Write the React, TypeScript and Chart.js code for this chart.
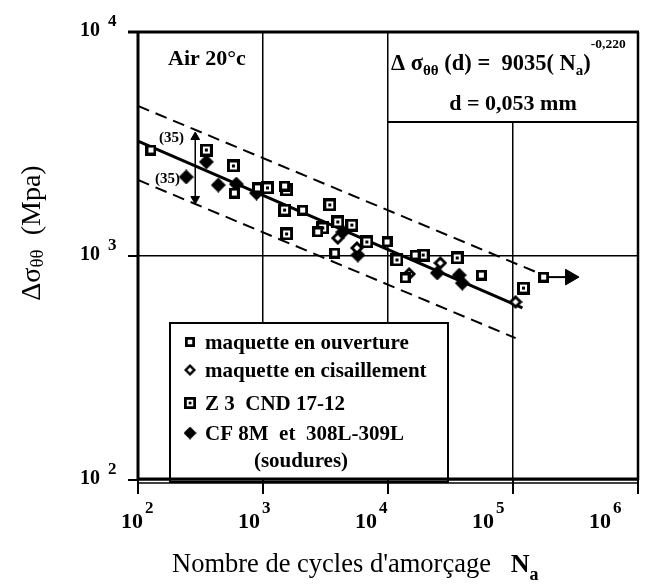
import React, { useEffect, useRef } from 'react';
import { Chart, registerables } from 'chart.js';

Chart.register(...registerables);

const W = 658;
const H = 587;

// axis decades and tick exponent labels
const xDecades = [1e2, 1e3, 1e4, 1e5, 1e6];
const yDecades = [1e2, 1e3, 1e4];
const xTickExponents = ['2', '3', '4', '5', '6'];
const yTickExponents = ['2', '3', '4'];

// texts
const xTitleMain = "Nombre de cycles d'amorçage";
const legendLabels = ['maquette en ouverture', 'maquette en cisaillement', 'Z 3  CND 17-12', 'CF 8M  et  308L-309L'];
const legendNote = '(soudures)';
const envLabel = 'Air 20°c';
const scatterLabel = '(35)';
const formulaCoef = '9035(';
const formulaExp = '-0,220';
const formulaLine2 = 'd = 0,053 mm';

// series: maquette en ouverture (open squares)
const ouvertureN = [127, 590, 903, 1489, 2075, 2742, 3750, 9820, 13700, 16480, 55800, 175800];
const ouvertureS = [2972, 1910, 2014, 2053, 1603, 1280, 1031, 1155, 798, 1010, 822, 805];

// series: maquette en cisaillement (open diamonds)
const cisaillementN = [3963, 5637, 14750, 26200, 104800];
const cisaillementS = [1202, 1086, 832, 931, 624];

// series: Z3 CND 17-12 (squares with dot)
const z3N = [352, 580, 1086, 1545, 1489, 3420, 1545, 3006, 3963, 5140, 6774, 11800, 19100, 35800, 121300];
const z3S = [2972, 2523, 2014, 1972, 1603, 1691, 1254, 1334, 1419, 1374, 1155, 960, 1010, 980, 719];

// series: CF 8M et 308L-309L (filled diamonds)
const cf8mN = [352, 243, 439, 612, 887, 4355, 5740, 24800, 37150, 39300];
const cf8mS = [2630, 2254, 2074, 2094, 1910, 1280, 1010, 840, 822, 757];

// fitted curve and scatter band
const fitN = [100, 119000];
const fitS = [3260, 586];
const upperN = [100, 152000];
const upperS = [4677, 849];
const lowerN = [100, 105000];
const lowerS = [2184, 430];

// scatter band arrow and run-out arrow
const bandArrowN = [287, 287];
const bandArrowS = [3398, 1797];
const runoutN = [175800, 286000];
const runoutS = [805, 805];

const pts = (n: number[], s: number[]) => n.map((v, i) => ({ x: v, y: s[i] }));

function makeMarker(kind: string): HTMLCanvasElement {
  const s = kind === 'z3' ? 13 : kind === 'square' ? 11 : kind === 'odiamond' ? 14 : 15;
  const c = document.createElement('canvas');
  c.width = s;
  c.height = s;
  const g = c.getContext('2d') as CanvasRenderingContext2D;
  g.fillStyle = '#000';
  if (kind === 'square' || kind === 'z3') {
    g.fillRect(0, 0, s, s);
    g.fillStyle = '#fff';
    g.fillRect(3, 3, s - 6, s - 6);
    if (kind === 'z3') {
      g.fillStyle = '#000';
      g.fillRect(5, 5, 3, 3);
    }
  } else {
    const h = s / 2;
    g.beginPath();
    g.moveTo(h, 0);
    g.lineTo(s, h);
    g.lineTo(h, s);
    g.lineTo(0, h);
    g.closePath();
    g.fill();
    if (kind === 'odiamond') {
      const r = h - 4;
      g.fillStyle = '#fff';
      g.beginPath();
      g.moveTo(h, h - r);
      g.lineTo(h + r, h);
      g.lineTo(h, h + r);
      g.lineTo(h - r, h);
      g.closePath();
      g.fill();
    }
  }
  return c;
}

type Part = { t: string; f: string; dy?: number };
function rich(ctx: CanvasRenderingContext2D, parts: Part[], x: number, y: number, align: string) {
  let w = 0;
  for (const p of parts) {
    ctx.font = p.f;
    w += ctx.measureText(p.t).width;
  }
  let cx = align === 'left' ? x : align === 'center' ? x - w / 2 : x - w;
  ctx.textAlign = 'left';
  ctx.textBaseline = 'alphabetic';
  for (const p of parts) {
    ctx.font = p.f;
    ctx.fillText(p.t, cx, y + (p.dy || 0));
    cx += ctx.measureText(p.t).width;
  }
}

const SERIF = '"Liberation Serif", "Times New Roman", serif';
const B = (px: number) => `bold ${px}px ${SERIF}`;
const R = (px: number) => `${px}px ${SERIF}`;

export default function App() {
  const ref = useRef<HTMLCanvasElement | null>(null);

  useEffect(() => {
    const canvas = ref.current;
    if (!canvas) return;
    const mSquare = makeMarker('square');
    const mZ3 = makeMarker('z3');
    const mODiamond = makeMarker('odiamond');
    const mFDiamond = makeMarker('fdiamond');
    const legendMarkers = [mSquare, mODiamond, mZ3, mFDiamond];

    const boxes = {
      id: 'boxes',
      beforeDatasetsDraw(chart: any) {
        const ctx = chart.ctx as CanvasRenderingContext2D;
        const xs = chart.scales.x;
        const { top, right, bottom } = chart.chartArea;
        ctx.save();
        // formula box
        const fx = xs.getPixelForValue(1e4);
        ctx.fillStyle = '#fff';
        ctx.fillRect(fx + 1, top, right - fx - 1, 90);
        ctx.strokeStyle = '#000';
        ctx.lineWidth = 2;
        ctx.beginPath();
        ctx.moveTo(fx, top + 90);
        ctx.lineTo(right, top + 90);
        ctx.stroke();
        // legend box
        ctx.fillStyle = '#fff';
        ctx.fillRect(170, 323, 278, bottom - 323);
        ctx.lineWidth = 2;
        ctx.strokeRect(170, 323, 278, bottom - 323 + 2);
        ctx.restore();
      },
    };

    const decor = {
      id: 'decor',
      afterDraw(chart: any) {
        const ctx = chart.ctx as CanvasRenderingContext2D;
        const xs = chart.scales.x;
        const ys = chart.scales.y;
        const { left, top, right, bottom } = chart.chartArea;
        ctx.save();
        ctx.strokeStyle = '#000';
        ctx.fillStyle = '#000';
        // frame
        ctx.lineWidth = 3;
        ctx.beginPath();
        ctx.moveTo(left - 10, top);
        ctx.lineTo(right + 1, top);
        ctx.moveTo(left, top);
        ctx.lineTo(left, bottom);
        ctx.moveTo(left - 1, bottom - 1);
        ctx.lineTo(right + 1, bottom - 1);
        ctx.stroke();
        ctx.lineWidth = 1.5;
        ctx.beginPath();
        ctx.moveTo(left, bottom + 3);
        ctx.lineTo(right + 1, bottom + 3);
        ctx.stroke();
        ctx.lineWidth = 2.5;
        ctx.beginPath();
        ctx.moveTo(right, top);
        ctx.lineTo(right, bottom);
        ctx.stroke();
        // ticks
        ctx.lineWidth = 2;
        ctx.beginPath();
        yDecades.forEach((v) => {
          const y = ys.getPixelForValue(v);
          ctx.moveTo(left - 10, y);
          ctx.lineTo(left, y);
        });
        xDecades.forEach((v) => {
          const x = xs.getPixelForValue(v);
          ctx.moveTo(x, bottom);
          ctx.lineTo(x, bottom + 14);
        });
        ctx.stroke();
        // x tick labels
        xDecades.forEach((v, i) => {
          const x = xs.getPixelForValue(v) - i * 8;
          ctx.textAlign = 'right';
          ctx.font = B(22);
          ctx.fillText('10', x + 5, bottom + 48);
          ctx.textAlign = 'left';
          ctx.font = B(17);
          ctx.fillText(xTickExponents[i], x + 7, bottom + 33);
        });
        // y tick labels
        yDecades.forEach((v, i) => {
          const y = ys.getPixelForValue(v);
          ctx.textAlign = 'right';
          ctx.font = B(20);
          ctx.fillText('10', left - 38, y + 4);
          ctx.textAlign = 'left';
          ctx.font = B(17);
          ctx.fillText(yTickExponents[i], left - 30, y - 6);
        });
        // x title
        rich(
          ctx,
          [
            { t: xTitleMain + '   ', f: R(26.5) },
            { t: 'N', f: B(26) },
            { t: 'a', f: B(18), dy: 8 },
          ],
          left + 34,
          bottom + 92,
          'left'
        );
        // y title
        ctx.save();
        ctx.translate(40, 233);
        ctx.rotate(-Math.PI / 2);
        rich(
          ctx,
          [
            { t: 'Δσ', f: R(28) },
            { t: 'θθ', f: R(19), dy: 3 },
            { t: '  (Mpa)', f: R(28) },
          ],
          0,
          0,
          'center'
        );
        ctx.restore();
        // environment label
        ctx.font = B(22);
        ctx.textAlign = 'left';
        ctx.fillText(envLabel, 168, 65);
        // formula
        const fx = xs.getPixelForValue(1e4);
        rich(
          ctx,
          [
            { t: 'Δ ', f: B(22.5) },
            { t: 'σ', f: B(22.5) },
            { t: 'θθ', f: B(15), dy: 5 },
            { t: ' (d) =  ' + formulaCoef + ' ', f: B(22.5) },
            { t: 'N', f: B(22.5) },
            { t: 'a', f: B(15), dy: 5 },
            { t: ')', f: B(22.5) },
            { t: formulaExp, f: B(13.5), dy: -22 },
          ],
          fx + 3,
          70,
          'left'
        );
        ctx.font = B(22);
        ctx.textAlign = 'center';
        ctx.fillText(formulaLine2, (fx + right) / 2, 110);
        // (35) labels
        ctx.font = B(15);
        ctx.textAlign = 'right';
        ctx.fillText(scatterLabel, 184, 142);
        ctx.fillText(scatterLabel, 180, 183);
        // legend
        const ly = [342, 370, 403, 433];
        legendLabels.forEach((lab, i) => {
          const m = legendMarkers[i];
          const s = i === 0 ? 10 : i === 1 ? 12 : i === 2 ? 12 : 13;
          ctx.drawImage(m, 190 - s / 2, ly[i] - s / 2, s, s);
          ctx.font = B(21);
          ctx.textAlign = 'left';
          ctx.fillText(lab, 205, ly[i] + 7);
        });
        ctx.textAlign = 'center';
        ctx.fillText(legendNote, 301, 467);
        ctx.restore();
      },
    };

    const chart = new Chart(canvas, {
      type: 'scatter',
      data: {
        datasets: [
          { label: legendLabels[0], data: pts(ouvertureN, ouvertureS), pointStyle: mSquare as any, pointRadius: 6, order: 0 },
          { label: legendLabels[1], data: pts(cisaillementN, cisaillementS), pointStyle: mODiamond as any, pointRadius: 6, order: 0 },
          { label: legendLabels[2], data: pts(z3N, z3S), pointStyle: mZ3 as any, pointRadius: 6, order: 0 },
          { label: legendLabels[3], data: pts(cf8mN, cf8mS), pointStyle: mFDiamond as any, pointRadius: 6, order: 0 },
          { label: 'fit', data: pts(fitN, fitS), showLine: true, borderColor: '#000', borderWidth: 3, pointRadius: 0, order: 2 },
          { label: 'upper', data: pts(upperN, upperS), showLine: true, borderColor: '#000', borderWidth: 2, borderDash: [12, 7], pointRadius: 0, order: 2 },
          { label: 'lower', data: pts(lowerN, lowerS), showLine: true, borderColor: '#000', borderWidth: 2, borderDash: [12, 7], pointRadius: 0, order: 2 },
          {
            label: 'band',
            data: pts(bandArrowN, bandArrowS),
            showLine: true,
            borderColor: '#000',
            borderWidth: 1.5,
            pointStyle: 'triangle',
            pointRadius: 5,
            pointRotation: [0, 180],
            pointBackgroundColor: '#000',
            pointBorderColor: '#000',
            pointBorderWidth: 1,
            order: 1,
          } as any,
          {
            label: 'runout',
            data: pts(runoutN, runoutS),
            showLine: true,
            borderColor: '#000',
            borderWidth: 2,
            pointStyle: 'triangle',
            pointRadius: [0, 9],
            pointRotation: 90,
            pointBackgroundColor: '#000',
            pointBorderColor: '#000',
            pointBorderWidth: 1,
            order: 1,
          } as any,
        ],
      },
      options: {
        responsive: false,
        animation: false,
        devicePixelRatio: 1,
        layout: { padding: { left: 138, right: 20, top: 32, bottom: 107 } },
        plugins: { legend: { display: false }, tooltip: { enabled: false } },
        scales: {
          x: {
            type: 'logarithmic',
            min: 1e2,
            max: 1e6,
            afterBuildTicks: (s: any) => {
              s.ticks = xDecades.map((v) => ({ value: v }));
            },
            ticks: { display: false },
            grid: { color: '#000', lineWidth: 1.5, drawTicks: false },
            border: { display: false },
          },
          y: {
            type: 'logarithmic',
            min: 1e2,
            max: 1e4,
            afterBuildTicks: (s: any) => {
              s.ticks = yDecades.map((v) => ({ value: v }));
            },
            ticks: { display: false },
            grid: { color: '#000', lineWidth: 1.5, drawTicks: false },
            border: { display: false },
          },
        },
      } as any,
      plugins: [boxes, decor],
    });
    return () => chart.destroy();
  }, []);

  return (
    <div style={{ position: 'absolute', left: 0, top: 0, width: W, height: H, background: '#fff' }}>
      <canvas ref={ref} width={W} height={H} style={{ display: 'block' }} />
    </div>
  );
}
